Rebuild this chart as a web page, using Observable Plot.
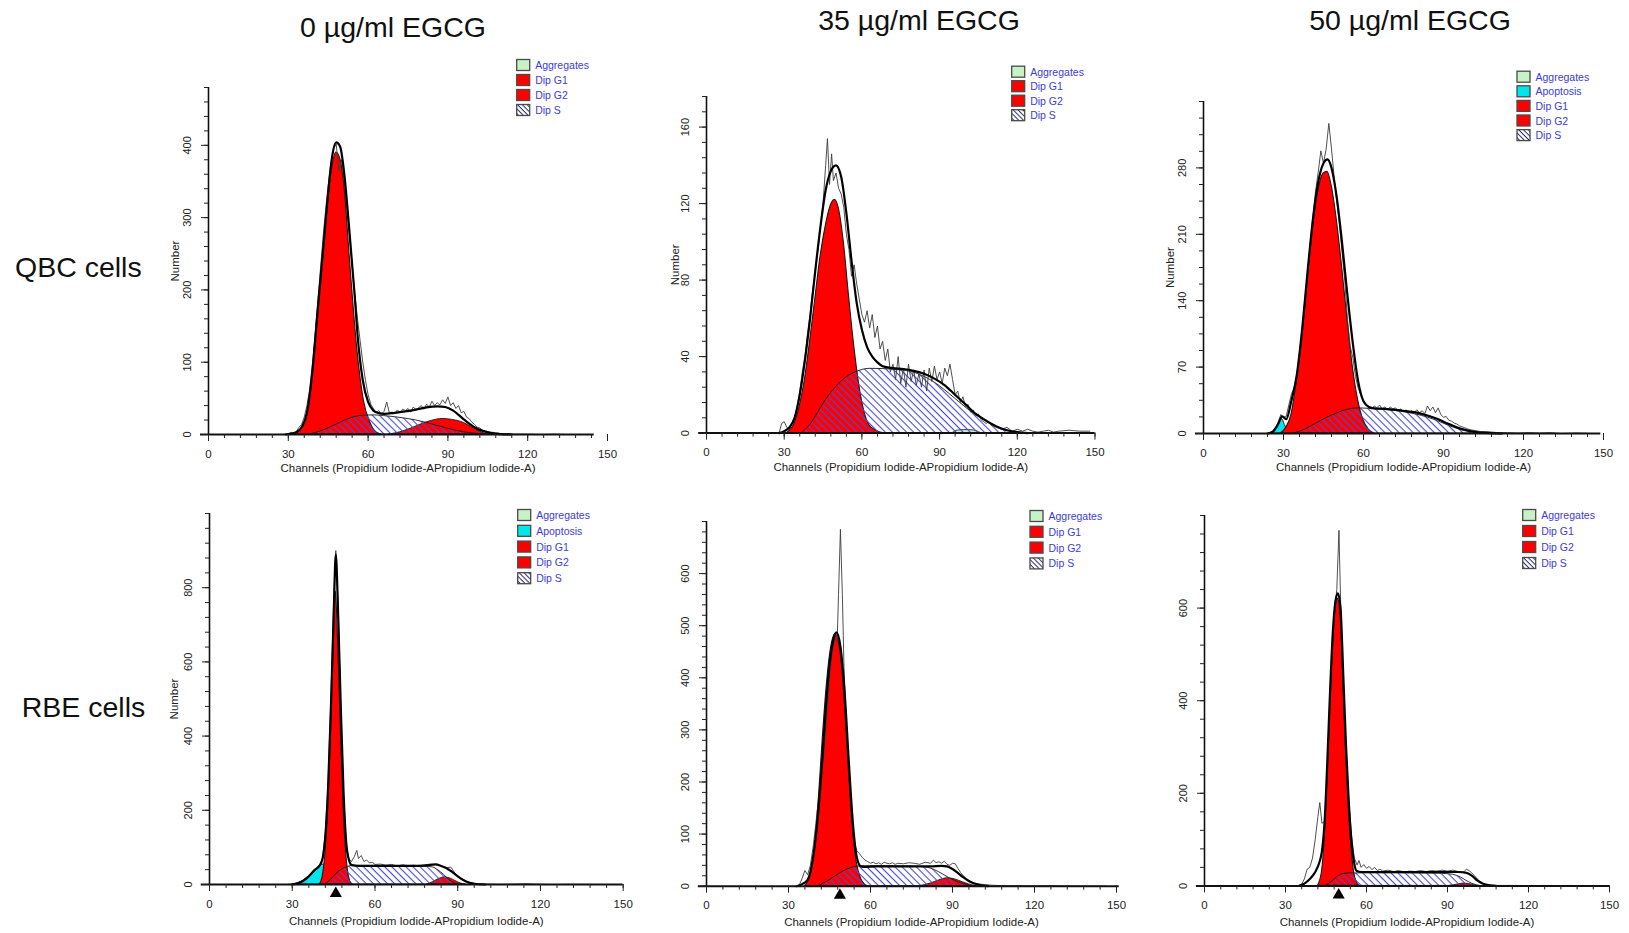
<!DOCTYPE html>
<html><head><meta charset="utf-8">
<script src="https://cdn.jsdelivr.net/npm/d3@7"></script>
<script src="https://cdn.jsdelivr.net/npm/@observablehq/plot@0.6"></script>
<style>
html,body{margin:0;padding:0;background:#fff;}
#page{position:relative;width:1629px;height:933px;overflow:hidden;font-family:"Liberation Sans",Arial,sans-serif;background:#fff;}
.panel{position:absolute;}
.panel svg{display:block;}
#overlay{position:absolute;left:0;top:0;pointer-events:none;}
</style></head><body>
<svg width="0" height="0" style="position:absolute">
  <defs>
    <pattern id="hatchS" patternUnits="userSpaceOnUse" width="5" height="5" patternTransform="rotate(45)">
      <rect x="0" y="0" width="5" height="1.1" fill="#4b4bd2"></rect>
    </pattern>
    <pattern id="hatchL" patternUnits="userSpaceOnUse" width="3.4" height="3.4" patternTransform="rotate(45)">
      <rect x="0" y="0" width="3.4" height="1" fill="#2a2a66"></rect>
    </pattern>
  </defs>
</svg>
<div id="page"></div>
<script>
// ---------- text ----------
const colTitles = ["0 µg/ml EGCG", "35 µg/ml EGCG", "50 µg/ml EGCG"];
const rowTitles = ["QBC cells", "RBE cells"];
const xLabel = "Channels (Propidium Iodide-APropidium Iodide-A)";
const yLabel = "Number";
const xMajor = [0, 30, 60, 90, 120, 150];
const xMinor = [0,6,12,18,24,30,36,42,48,54,60,66,72,78,84,90,96,102,108,114,120,126,132,138,144,150];

// ---------- Panel A: QBC, 0 µg/ml ----------
const A_yMajor = [0, 100, 200, 300, 400];
const A_G1 = [[31,0],[33,2],[35,8],[37,24],[39,80],[41,165],[43,240],[46,356],[48,390],[49.5,382],[51,347],[53.4,231],[56,116],[58.4,47],[61,15],[63.5,2],[65,0]];
const A_S = [[38,0],[42,4],[46,10],[50,17],[54,23],[58,26],[62,26.5],[66,25.5],[70,24],[74,22],[78,19.5],[82,16],[86,12],[90,8],[94,4.5],[98,2],[102,0.6],[105,0]];
const A_G2 = [[68,0],[72,3],[76,8],[80,14],[84,19],[88,21.5],[92,20],[96,16],[99,10],[102,4],[104,1],[106,0]];
const A_fit = [[29,0],[31,1],[33,3],[35,10],[37,30],[39,85],[41,170],[43,252],[45,335],[46.5,385],[48,404],[49.5,398],[51,362],[53,280],[55,190],[56,139],[58,75],[60,45],[62,33],[64,29.5],[66,28.5],[70,30],[74,32],[78,34.5],[82,37.5],[86,39],[89,38],[92,33],[95,24],[98,15],[101,8],[104,4],[107,1.5],[110,0.5],[114,0]];
const A_raw = [[28,0],[30,1],[31,3],[32,2],[33,4],[34,10],[35,14],[36,24],[37,40],[38,62],[39,95],[40,135],[41,180],[42,225],[43,270],[44,310],[45,345],[46,375],[47,395],[48,402],[49,365],[50,380],[51,350],[52,315],[53,275],[54,235],[55,195],[56,160],[57,130],[58,100],[59,75],[60,55],[61,42],[62,36],[63,30],[64,33],[65,28],[66,32],[67,45],[68,30],[69,31],[70,29],[71,34],[72,30],[73,35],[74,33],[75,36],[76,31],[77,38],[78,34],[79,37],[80,40],[81,35],[82,42],[83,38],[84,46],[85,40],[86,44],[87,41],[88,48],[89,43],[90,52],[91,40],[92,44],[93,36],[94,40],[95,30],[96,32],[97,24],[98,22],[99,17],[100,14],[101,10],[102,9],[103,6],[104,5],[105,4],[106,3],[107,3],[108,2],[109,2],[110,1],[112,1],[115,0.5],[120,0.5],[125,0],[130,0.5],[135,0],[140,0],[144,0]];

// ---------- Panel B: QBC, 35 µg/ml ----------
const B_yMajor = [0, 40, 80, 120, 160];
const B_G1 = [[31,0],[34,5],[36,14],[38,28],[40,48],[42,70],[44,92],[46,108],[48,119],[49.5,122],[51,118],[53,100],[55,72],[57,46],[59,25],[61,11],[63,4],[66,1],[68,0]];
const B_S = [[37,0],[41,6],[45,15],[50,24],[55,30],[58,32],[63,33.6],[68,33.5],[73,33],[79,32],[84,29.5],[88,26.5],[92,22.5],[96,18],[100,13.5],[104,9.5],[108,6],[112,3],[116,1.4],[120,0]];
const B_Agg = [[95,0],[97,1.3],[100,1.6],[103,1.4],[106,0]];
const B_fit = [[28,0],[30,1],[32,3],[34,8],[36,20],[38,38],[40,60],[42,85],[44,108],[46,127],[48,137],[50,140],[52,134],[54,115],[56,90],[58,68],[60,54],[62,45],[64,40],[66,37],[68,35],[72,34],[76,33.5],[80,32.5],[84,31],[88,28.5],[92,25],[96,20],[100,15],[104,10],[108,6.5],[112,3.5],[116,1.5],[120,0.5],[124,0]];
const B_raw = [[28,0],[29,5],[30,6],[31,3],[32,2],[33,5],[34,8],[35,14],[36,22],[37,32],[38,40],[39,52],[40,62],[41,75],[42,84],[43,95],[44,108],[45,120],[46,140],[46.7,154],[47.5,130],[48.3,146],[49,132],[50,136],[51,128],[52,125],[53,118],[54,104],[55,96],[56,82],[57,88],[58,78],[59,70],[60,62],[61,58],[62,64],[63,55],[64,62],[65,50],[66,56],[67,44],[68,48],[69,38],[70,44],[71,32],[72,36],[73,28],[74,40],[75,26],[76,34],[77,24],[78,36],[79,27],[80,33],[81,25],[82,31],[83,24],[84,33],[85,22],[86,34],[87,27],[88,35],[89,28],[90,32],[91,26],[92,34],[93,30],[94,36],[95,28],[96,20],[97,22],[98,16],[99,19],[100,14],[101,15],[102,11],[103,12],[104,9],[105,10],[106,7],[107,6],[108,5],[109,6],[110,4],[112,3],[114,2],[116,3],[118,1],[120,2],[122,1],[124,2],[126,1],[128,0.5],[130,1],[132,1.5],[134,0.5],[136,1],[140,1.5],[144,1],[148,1]];

// ---------- Panel C: QBC, 50 µg/ml ----------
const C_yMajor = [0, 70, 140, 210, 280];
const C_Apo = [[26,0],[27.5,5],[28.5,11],[29.5,15],[30.5,9],[31.5,3],[33,0]];
const C_G1 = [[29,0],[31,6],[33,20],[35,55],[37,100],[39,160],[41,215],[43,255],[45,274],[46.5,276],[48,262],[50,225],[52,175],[54,120],[56,70],[58,35],[60,14],[62,4],[64,0]];
const C_S = [[34,0],[38,4],[42,10],[46,16],[50,21],[54,25],[58,26.5],[62,26],[66,25.3],[70,24.5],[74,23],[78,21],[82,18.5],[86,15],[90,10.5],[94,6],[98,2.5],[102,0.8],[105,0]];
const C_fit = [[24,0],[26,2],[28,10],[29.5,18],[31,15],[33,35],[35,62],[37,110],[39,170],[41,225],[43,265],[45,285],[46.5,289],[48,280],[50,248],[52,200],[54,145],[56,95],[58,55],[60,34],[62,28],[64,26.5],[68,26],[72,25],[76,23.5],[80,22],[84,19],[88,15],[92,10],[96,5.5],[100,2.5],[104,1],[108,0.3],[112,0]];
const C_raw = [[24,0],[26,2],[27,6],[28,12],[29,20],[30,17],[31,18],[32,30],[33,42],[34,48],[35,62],[36,85],[37,110],[38,140],[39,170],[40,200],[41,228],[42,255],[43,275],[44,298],[45,285],[46,300],[47,327],[48,300],[49,270],[50,245],[51,220],[52,190],[53,160],[54,120],[55,92],[56,80],[57,60],[58,48],[59,40],[60,34],[61,30],[62,28],[63,26],[64,29],[65,27],[66,30],[67,26],[68,28],[69,25],[70,28],[71,26],[72,27],[73,24],[74,26],[75,23],[76,25],[77,22],[78,24],[79,22],[80,25],[81,22],[82,24],[83,21],[84,29],[85,24],[86,28],[87,22],[88,27],[89,20],[90,17],[91,18],[92,14],[93,13],[94,11],[95,10],[96,8],[97,7],[98,6],[99,5],[100,4],[102,3],[104,2],[106,2],[108,1.5],[110,1],[114,1],[118,0.5],[122,1],[126,0.5],[130,1],[134,0],[140,0.5],[145,0]];

// ---------- Panel D: RBE, 0 µg/ml ----------
const D_yMajor = [0, 200, 400, 600, 800];
const D_Apo = [[30,0],[32,3],[34,10],[36,22],[38,37],[40,50],[41.5,54],[42.5,35],[43.5,12],[44.5,0]];
const D_G1 = [[40,0],[41,20],[42,80],[43,200],[44,400],[45,640],[45.8,790],[46.6,660],[47.6,420],[48.6,210],[49.6,80],[50.6,20],[51.6,0]];
const D_S = [[42,0],[44,12],[46,28],[48,40],[50,47],[52,50],[60,50],[70,49],[78,48],[81,46],[83,38],[85,26],[87,12],[89,3],[90,0]];
const D_G2 = [[79,0],[81,6],[83,14],[85,19],[87,17],[89,10],[91,3],[93,0]];
const D_fit = [[30,0],[32,3],[34,10],[36,22],[38,38],[40,52],[41,70],[42,130],[43,260],[44,470],[45,720],[45.8,890],[46.6,740],[47.6,480],[48.6,250],[49.6,110],[50.6,65],[51.6,52],[54,50],[60,50],[66,50],[72,50],[78,51],[82,54],[84,50],[86,44],[88,34],[90,22],[92,12],[94,5],[96,2],[100,0]];
const D_raw = [[28,0],[30,1],[32,4],[34,10],[36,20],[38,36],[40,50],[41,72],[42,140],[43,280],[44,500],[45,760],[45.8,900],[46.6,760],[47.6,470],[48.6,240],[49.6,110],[50.5,70],[51.5,62],[52.5,75],[53.4,92],[54,70],[55,78],[56,62],[57,66],[58,58],[59,60],[60,54],[62,55],[64,52],[66,54],[68,50],[70,53],[72,51],[74,52],[76,50],[78,53],[80,55],[82,54],[84,50],[86,45],[87.5,47],[89,30],[91,18],[93,9],[95,4],[97,2],[100,1],[105,0.5],[110,1],[115,2],[120,0.5],[125,0],[130,0.5],[140,0],[148,0]];
const D_tri = 45.8;

// ---------- Panel E: RBE, 35 µg/ml ----------
const E_yMajor = [0, 100, 200, 300, 400, 500, 600];
const E_G1 = [[36,0],[38,20],[39.5,70],[41,160],[42.5,280],[44,385],[45.5,455],[47.2,484],[49,450],[50.5,360],[52,230],[53.5,115],[55,45],[56.5,15],[58,3],[59,0]];
const E_S = [[41,0],[44,8],[47,18],[50,28],[53,35],[56,38],[62,38.5],[70,38],[78,37],[82,34],[85,27],[88,18],[91,10],[94,4],[97,0]];
const E_G2 = [[78,0],[82,5],[85,11],[88,15],[91,13],[94,7],[97,2],[99,0]];
const E_fit = [[33,0],[35,4],[37,12],[39,55],[40.5,120],[42,215],[43.5,330],[45,425],[46.5,475],[47.5,487],[49,460],[50.5,375],[52,245],[53.5,125],[55,55],[56.5,38],[58,37],[62,38],[70,38],[78,38],[82,38],[86,39],[88,38],[90,33],[92,25],[94,17],[96,10],[98,5],[100,2],[103,0]];
const E_raw = [[33,0],[34,3],[35,15],[36,30],[37,22],[38,40],[39,75],[40,120],[41,170],[42,215],[43,260],[44,330],[45,400],[46,450],[47,475],[47.8,470],[48.3,560],[49,685],[49.7,560],[50.3,420],[51,330],[52,220],[53,130],[54,85],[55,68],[56,62],[57,55],[58,50],[59,47],[60,44],[61,46],[62,43],[63,45],[64,42],[65,46],[66,44],[67,43],[68,45],[69,42],[70,44],[72,43],[74,45],[76,44],[78,42],[80,46],[82,44],[83,50],[84,45],[85,47],[86,44],[87,48],[88,42],[89,40],[90,44],[91,43],[92,34],[93,26],[94,20],[95,15],[96,11],[97,8],[98,6],[100,4],[102,3],[104,2],[108,1],[112,1],[120,0.5],[126,1],[130,0.5],[140,0],[146,0]];
const E_tri = 48.8;

// ---------- Panel F: RBE, 50 µg/ml ----------
const F_yMajor = [0, 200, 400, 600];
const F_G1 = [[42,0],[43.5,30],[44.5,100],[45.5,230],[46.5,380],[47.5,510],[48.5,600],[49.4,620],[50.4,585],[51.4,440],[52.4,290],[53.4,170],[54.4,85],[55.4,30],[56.4,8],[57.4,0]];
const F_S = [[45,0],[47,8],[49,18],[51,25],[54,27],[60,27],[70,27],[80,26.5],[88,26],[92,24],[95,18],[97,11],[99,5],[101,1],[102,0]];
const F_G2 = [[91,0],[94,3],[96,5],[98,4],[100,1],[101,0]];
const F_fit = [[35,0],[37,5],[39,15],[41,30],[42.5,50],[43.5,75],[44.5,140],[45.5,270],[46.5,420],[47.5,545],[48.5,615],[49.4,632],[50.4,598],[51.4,455],[52.4,305],[53.4,185],[54.4,100],[55.4,50],[56.4,32],[58,30],[62,30],[70,30],[80,30],[90,30],[94,30],[97,28],[99,22],[101,12],[103,5],[105,1.5],[108,0]];
const F_raw = [[35,0],[36,4],[37,15],[38,36],[39,40],[40,60],[41,100],[42,150],[42.7,180],[43.5,135],[44.5,140],[45.3,220],[46,310],[47,460],[48,580],[49,640],[49.8,768],[50.5,590],[51.5,410],[52.5,290],[53.5,180],[54.5,105],[55.5,60],[56.5,45],[57.2,55],[58,40],[59,46],[60,38],[61,42],[62,35],[63,40],[64,33],[65,36],[66,32],[68,34],[70,31],[72,33],[74,30],[76,32],[78,31],[80,33],[82,31],[84,33],[86,32],[88,34],[90,32],[92,34],[94,31],[96,30],[97,36],[98,33],[99,28],[100,22],[101,15],[102,10],[103,6],[104,4],[106,2],[108,1],[112,1],[116,1],[120,0.5],[126,1],[130,0.5],[136,1],[140,0],[148,0.5]];
const F_tri = 49.7;

// ---------- legend entries ----------
const legA = ["Aggregates", "Dip G1", "Dip G2", "Dip S"];
const legC = ["Aggregates", "Apoptosis", "Dip G1", "Dip G2", "Dip S"];

// ---------- styling ----------
const RED = "#ff0000", CYAN = "#00e6ee", GREEN = "#c6f2c6";
const legendFill = {"Aggregates": GREEN, "Apoptosis": CYAN, "Dip G1": RED, "Dip G2": RED, "Dip S": "url(#hatchL)"};

const panels = [
  {raw:A_raw, fit:A_fit, g1:A_G1, g2:A_G2, s:A_S, yMax:480, yMajor:A_yMajor, yStep:20, axisEnd:145, number:true, tri:null,
   L:{x0:208, x150:607, y0:434, yTop:87, numDx:-33, labDy:34}, leg:{items:legA, x:516.7, y:65, h:15}},
  {raw:B_raw, fit:B_fit, g1:B_G1, s:B_S, agg:B_Agg, yMax:176, yMajor:B_yMajor, yStep:8, axisEnd:150, number:true, tri:null,
   L:{x0:706, x150:1094.5, y0:432.7, yTop:96.1, numDx:-31, labDy:34}, leg:{items:legA, x:1011.7, y:71.7, h:14.5}},
  {raw:C_raw, fit:C_fit, g1:C_G1, s:C_S, apo:C_Apo, yMax:350, yMajor:C_yMajor, yStep:17.5, axisEnd:149, number:true, tri:null,
   L:{x0:1203, x150:1603, y0:433.3, yTop:101.3, numDx:-33, labDy:34}, leg:{items:legC, x:1517, y:76.7, h:14.6}},
  {raw:D_raw, fit:D_fit, g1:D_G1, g2:D_G2, s:D_S, apo:D_Apo, yMax:1000, yMajor:D_yMajor, yStep:40, axisEnd:150, number:true, tri:D_tri,
   L:{x0:209.3, x150:623, y0:884, yTop:513, numDx:-35, labDy:37}, leg:{items:legC, x:517.7, y:515, h:15.8}},
  {raw:E_raw, fit:E_fit, g1:E_G1, g2:E_G2, s:E_S, yMax:700, yMajor:E_yMajor, yStep:20, axisEnd:151, number:false, tri:E_tri,
   L:{x0:706, x150:1116, y0:886, yTop:521.3, labDy:36}, leg:{items:legA, x:1030, y:516, h:15.8}},
  {raw:F_raw, fit:F_fit, g1:F_G1, g2:F_G2, s:F_S, yMax:800, yMajor:F_yMajor, yStep:40, axisEnd:150, number:false, tri:F_tri,
   L:{x0:1204, x150:1609, y0:885, yTop:514.6, labDy:36}, leg:{items:legA, x:1522.7, y:515, h:16}}
];

const page = document.getElementById("page");
const mL = 60, mR = 20, mT = 10, mB = 50;
const X = d => d[0], Y = d => d[1];
const FONT = "Liberation Sans, Arial, sans-serif";

panels.forEach(p => {
  const L = p.L;
  const w = (L.x150 - L.x0) + mL + mR;
  const h = (L.y0 - L.yTop) + mT + mB;
  const yMinor = d3.range(0, p.yMax + 0.001, p.yStep);
  const comp = (data, fill, sw) => Plot.areaY(data, {x: X, y: Y, fill, stroke: "#1a1a1a", strokeWidth: sw, curve: "monotone-x"});
  const marks = [];
  if (p.apo) marks.push(comp(p.apo, CYAN, 0.9));
  if (p.g2) marks.push(comp(p.g2, RED, 0.9));
  marks.push(comp(p.g1, RED, 1.1));
  if (p.agg) marks.push(comp(p.agg, GREEN, 0.8));
  marks.push(comp(p.s, "url(#hatchS)", 0.9));
  marks.push(Plot.line(p.raw, {x: X, y: Y, stroke: "#3c3c3c", strokeWidth: 0.9}));
  marks.push(Plot.line(p.fit, {x: X, y: Y, stroke: "#000", strokeWidth: 2.2, curve: "monotone-x"}));
  marks.push(Plot.ruleY([0], {x1: -3, x2: p.axisEnd, stroke: "#111", strokeWidth: 2}));
  marks.push(Plot.ruleX([0], {y1: 0, y2: p.yMax, stroke: "#111", strokeWidth: 1.6}));
  marks.push(Plot.axisX({ticks: xMinor, tickSize: 4, tickFormat: () => "", label: null, color: "#222"}));
  marks.push(Plot.axisX({ticks: xMajor, tickSize: 7, tickPadding: 8, fontSize: 11.5, label: null, color: "#222"}));
  marks.push(Plot.axisY({ticks: yMinor, tickSize: 4, tickFormat: () => "", label: null, color: "#222"}));
  marks.push(Plot.axisY({ticks: p.yMajor, tickSize: 7, tickFormat: () => "", label: null, color: "#222"}));
  marks.push(Plot.text(p.yMajor, {x: 0, y: d => d, text: d => String(d), rotate: -90, dx: -21, fontSize: 11, fill: "#222"}));
  if (p.number) marks.push(Plot.text([yLabel], {x: 0, y: p.yMax / 2, rotate: -90, dx: L.numDx, fontSize: 11.5, fill: "#222"}));
  marks.push(Plot.text([xLabel], {x: 75, y: 0, dy: L.labDy, fontSize: 11.5, fill: "#222"}));
  if (p.tri != null) marks.push(Plot.dot([p.tri], {x: d => d, y: 0, dy: 9, symbol: "triangle", r: 4.5, fill: "#000", stroke: "none"}));

  const chart = Plot.plot({
    width: w, height: h,
    marginLeft: mL, marginRight: mR, marginTop: mT, marginBottom: mB,
    x: {domain: [0, 150]},
    y: {domain: [0, p.yMax]},
    style: {background: "transparent", overflow: "visible", fontFamily: FONT, maxWidth: "none"},
    marks
  });
  const div = document.createElement("div");
  div.className = "panel";
  div.style.left = (L.x0 - mL) + "px";
  div.style.top = (L.yTop - mT) + "px";
  div.appendChild(chart);
  page.appendChild(div);
});

// ---------- overlay: titles, row labels, legends ----------
const ov = d3.select(page).append("svg").attr("id", "overlay")
  .attr("width", 1629).attr("height", 933).style("font-family", FONT);

const titlePos = [[393, 37], [919, 30], [1410, 30]];
colTitles.forEach((t, i) => ov.append("text").attr("x", titlePos[i][0]).attr("y", titlePos[i][1])
  .attr("text-anchor", "middle").attr("font-size", 28.5).attr("fill", "#111").text(t));
const rowPos = [[15, 276.7], [21.7, 716.7]];
rowTitles.forEach((t, i) => ov.append("text").attr("x", rowPos[i][0]).attr("y", rowPos[i][1])
  .attr("font-size", 28.5).attr("fill", "#111").text(t));

panels.forEach(p => {
  const lg = p.leg;
  lg.items.forEach((name, i) => {
    const cy = lg.y + i * lg.h;
    ov.append("rect").attr("x", lg.x).attr("y", cy - 5.5).attr("width", 13).attr("height", 11)
      .attr("fill", "#fff").attr("stroke", "none");
    ov.append("rect").attr("x", lg.x).attr("y", cy - 5.5).attr("width", 13).attr("height", 11)
      .attr("fill", legendFill[name]).attr("stroke", "#4a4a4a").attr("stroke-width", 1.3);
    ov.append("text").attr("x", lg.x + 18.5).attr("y", cy).attr("dominant-baseline", "central")
      .attr("font-size", 10.5).attr("fill", "#3c3cd6").text(name);
  });
});
</script>
</body></html>
